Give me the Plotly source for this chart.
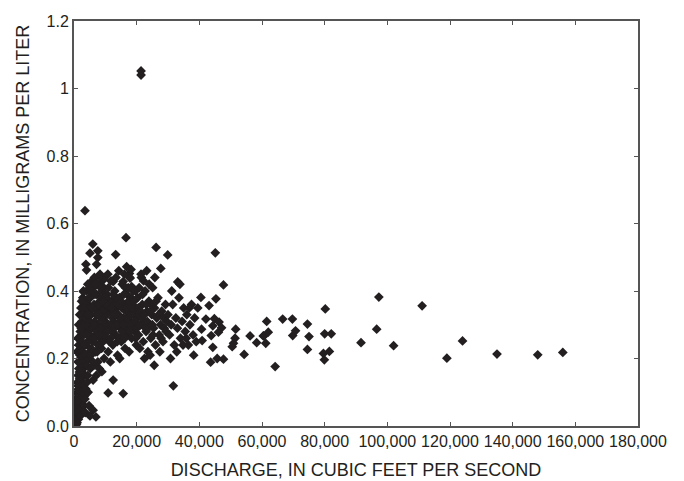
import plotly.graph_objects as go

# Discharge (cubic feet per second) and concentration (mg/L)
pts_tail = [
    (300,0.005),(400,0.01),(500,0.02),(600,0.0),(700,0.03),(800,0.015),(900,0.04),(1000,0.05),
    (1100,0.025),(1200,0.06),(1300,0.08),(1400,0.045),(1500,0.07),(1600,0.1),(1700,0.09),(1800,0.12),
    (1900,0.06),(2000,0.14),(2100,0.11),(2200,0.16),(2300,0.09),(2400,0.18),(2500,0.13),(2600,0.2),
    (2700,0.15),(2800,0.22),(3000,0.17),(700,0.07),(900,0.1),(1100,0.13),(1300,0.15),(1500,0.17),
    (1700,0.19),(1900,0.21),(2100,0.23),(2300,0.25),(2500,0.27),(800,0.005),(1000,0.01),(1200,0.03),
    (1400,0.02),(1600,0.035),(1800,0.05),(2000,0.03),(2200,0.07),(2400,0.055),(2600,0.08),(2800,0.1),
    (3000,0.12),(3200,0.06),(3400,0.09),(3600,0.04),(3800,0.11),(7000,0.027),(5100,0.03),(6100,0.047),
    (4500,0.1),(3500,0.08),(4200,0.13),(4800,0.06),(600,0.045),(1000,0.085),(1400,0.11),(1800,0.14),
    (2200,0.185),(2600,0.16),(3100,0.21),(3400,0.15),(500,0.06),(900,0.075),(1300,0.12),(1700,0.16),
]
pts_left = [
    (1000,0.22),(1200,0.26),(1500,0.3),(1800,0.33),(2000,0.28),(2200,0.35),(2500,0.31),(2800,0.38),
    (3000,0.4),(3200,0.34),(3500,0.29),(3800,0.24),(4000,0.4),(4200,0.32),(4500,0.36),(4800,0.27),
    (5000,0.22),(1500,0.24),(2000,0.2),(2600,0.25),(3300,0.19),(3600,0.21),(4100,0.18),(4400,0.15),
    (4700,0.2),(5200,0.17),(1300,0.19),(2900,0.3),(3400,0.33),(4600,0.29),(5100,0.35),
    (3500,0.638),(6000,0.539),(5100,0.512),(7600,0.519),(7600,0.499),(13300,0.508),(16600,0.558),
    (3800,0.479),(4000,0.462),(7200,0.479),(16800,0.472),(17700,0.452),(15700,0.428),(6200,0.433),
    (8300,0.442),(9400,0.433),(12500,0.428),(17900,0.438),(18400,0.413),(3000,0.398),(5100,0.403),
    (26200,0.529),(29900,0.507),(27700,0.467),(18200,0.464),(33100,0.427),
    (8900,0.161),(12500,0.136),(10900,0.098),(15700,0.096),(6100,0.136),(31700,0.119),
]
pts_body = [
    (5200,0.38),(5500,0.33),(5800,0.29),(6000,0.25),(6200,0.41),(6400,0.36),(6600,0.31),(6800,0.22),
    (7000,0.27),(7200,0.39),(7400,0.34),(7600,0.19),(7800,0.3),(8000,0.42),(8200,0.37),(8400,0.26),
    (8600,0.32),(8800,0.23),(9000,0.4),(9200,0.28),(9400,0.35),(9600,0.2),(9800,0.44),(10000,0.31),
    (5400,0.21),(5700,0.43),(6300,0.18),(6900,0.35),(7500,0.42),(8100,0.17),(8700,0.38),(9300,0.25),
    (9900,0.36),(5100,0.27),(6500,0.44),(7100,0.15),(7700,0.24),(8300,0.45),(8900,0.29),(9500,0.41),
    (10300,0.26),(10600,0.39),(10900,0.22),(11200,0.34),(11500,0.29),(11800,0.43),(12100,0.37),
    (12400,0.24),(12700,0.31),(13000,0.4),(13300,0.27),(13600,0.35),(13900,0.21),(14200,0.33),
    (14500,0.38),(14800,0.29),(15100,0.25),(15400,0.42),(15700,0.32),(16000,0.36),(16300,0.23),
    (16600,0.3),(16900,0.39),(17200,0.27),(17500,0.34),(17800,0.44),(18100,0.31),(18400,0.26),
    (18700,0.37),(19000,0.29),(19300,0.33),(19600,0.4),(19900,0.24),(10500,0.33),(11000,0.41),
    (11600,0.19),(12200,0.28),(12800,0.36),(13400,0.44),(14000,0.3),(14600,0.2),(15200,0.35),
    (15800,0.27),(16400,0.41),(17000,0.32),(17600,0.22),(18200,0.38),(18800,0.34),(19400,0.28),
    (10200,0.3),(11400,0.37),(12600,0.34),(13800,0.25),(15000,0.31),(16200,0.29),(17400,0.37),
    (18600,0.3),(19800,0.35),(10800,0.45),(14300,0.46),(16100,0.45),(20000,0.32),
    (20300,0.38),(20600,0.27),(20900,0.33),(21200,0.3),(21500,0.44),(21800,0.36),(22100,0.25),
    (22400,0.31),(22700,0.4),(23000,0.28),(23300,0.34),(23600,0.22),(23900,0.37),(24200,0.3),
    (24500,0.26),(24800,0.33),(25100,0.41),(25400,0.29),(25700,0.35),(26000,0.24),(26400,0.32),
    (26800,0.38),(27200,0.27),(27600,0.3),(28000,0.34),(28400,0.25),(28800,0.29),(29200,0.36),
    (29600,0.31),(20500,0.35),(21000,0.23),(21600,0.32),(22200,0.43),(22800,0.29),(23400,0.31),
    (24000,0.42),(24600,0.36),(25200,0.27),(26200,0.37),(27000,0.33),(27800,0.26),(28600,0.32),
    (29400,0.28),(22500,0.2),(24300,0.21),(25600,0.18),(27400,0.22),(21400,0.45),(23200,0.46),
    (20800,0.41),(25800,0.44),
    (30000,0.33),(30500,0.27),(31000,0.3),(31500,0.36),(32000,0.24),(32500,0.32),(33000,0.29),
    (33500,0.38),(34000,0.26),(34500,0.31),(35000,0.35),(35500,0.28),(36000,0.33),(36500,0.24),
    (37000,0.3),(37500,0.36),(38000,0.27),(38500,0.32),(39000,0.25),(39500,0.35),(31200,0.4),
    (33800,0.42),(36800,0.35),(32800,0.22),(35800,0.26),(38200,0.21),(30800,0.2),(34800,0.24),
]
pts_dense = [
    (2300,0.29),(2700,0.33),(3100,0.27),(3700,0.37),(4300,0.25),(4900,0.31),(5300,0.4),(5600,0.26),
    (5900,0.35),(6300,0.3),(6700,0.39),(7100,0.33),(7300,0.28),(7900,0.36),(8500,0.41),(9100,0.34),
    (9700,0.27),(10400,0.36),(11100,0.3),(11700,0.26),(12300,0.32),(12900,0.29),(13500,0.38),
    (14100,0.36),(14700,0.32),(15300,0.28),(15900,0.39),(16500,0.34),(17100,0.36),(17700,0.3),
    (18300,0.33),(18900,0.4),(19500,0.31),(20100,0.29),(20700,0.3),(21300,0.34),(21900,0.39),
    (22500,0.33),(23100,0.36),(23700,0.29),(24400,0.34),(25000,0.3),(3900,0.3),(4400,0.42),
    (6100,0.19),(6700,0.26),(7400,0.22),(8100,0.27),(8800,0.32),(9500,0.3),(10100,0.38),
    (10700,0.28),(11300,0.25),(11900,0.35),(12500,0.39),(13100,0.33),(13700,0.3),(14400,0.26),
    (15000,0.37),(15600,0.3),(16200,0.26),(16800,0.35),(17300,0.41),(17900,0.28),(18500,0.35),
    (19100,0.37),(19700,0.26),(2400,0.37),(2900,0.35),(3300,0.24),(3700,0.32),(4100,0.27),
    (4500,0.33),(4900,0.38),(5500,0.23),(6800,0.42),(7700,0.33),(8600,0.29),(9200,0.37),
]
pts_right = [
    (45100,0.513),(47700,0.418),(45300,0.377),(40500,0.381),(43100,0.357),(42100,0.317),(44800,0.318),
    (46300,0.308),(44300,0.297),(47100,0.291),(46100,0.278),(40700,0.287),(43800,0.268),(51600,0.287),
    (51400,0.26),(50900,0.245),(50500,0.235),(40900,0.253),(44300,0.233),(56200,0.267),(58300,0.247),
    (60400,0.267),(54300,0.212),(45700,0.2),(47700,0.198),(43600,0.189),
    (61500,0.31),(60600,0.267),(62000,0.278),(61200,0.245),(64200,0.176),(66600,0.317),(69700,0.317),
    (69800,0.268),(70700,0.282),(74500,0.302),(75000,0.265),(74500,0.227),(80200,0.347),(80000,0.273),
    (82100,0.273),(79600,0.215),(81500,0.221),(79900,0.196),(91600,0.247),(96600,0.287),(97300,0.382),
    (102000,0.238),(111100,0.356),(119000,0.201),(124000,0.252),(135000,0.213),(148000,0.211),
    (156000,0.218),(21400,1.052),(21400,1.040),
]

all_pts = pts_tail + pts_left + pts_body + pts_dense + pts_right
discharge = [p[0] for p in all_pts]
concentration = [p[1] for p in all_pts]

x_ticks = [0, 20000, 40000, 60000, 80000, 100000, 120000, 140000, 160000, 180000]
x_labels = ["0", "20,000", "40,000", "60,000", "80,000", "100,000", "120,000", "140,000", "160,000", "180,000"]
y_ticks = [0, 0.2, 0.4, 0.6, 0.8, 1.0, 1.2]
y_labels = ["0.0", "0.2", "0.4", "0.6", "0.8", "1", "1.2"]

FONT = "Liberation Sans, Arial, sans-serif"
INK = "#231f20"
AXC = "#555555"

fig = go.Figure()
fig.add_trace(go.Scatter(
    x=discharge, y=concentration, mode="markers",
    marker=dict(symbol="diamond", size=7.5, color=INK, line=dict(width=0)),
    showlegend=False, hoverinfo="skip",
))

fig.update_layout(
    width=684, height=481,
    margin=dict(l=74, r=46, t=21, b=55),
    paper_bgcolor="white", plot_bgcolor="white",
    font=dict(family=FONT, color=INK, size=16),
)
fig.update_xaxes(
    range=[0, 180000], tickvals=x_ticks, ticktext=x_labels, automargin=False,
    ticks="inside", ticklen=4, tickcolor=AXC, tickwidth=1,
    showline=True, linecolor=AXC, linewidth=2, mirror="ticks",
    showgrid=False, zeroline=False,
    tickfont=dict(size=16, family=FONT, color=INK),
    title=dict(text="DISCHARGE, IN CUBIC FEET PER SECOND", font=dict(size=18, family=FONT, color=INK), standoff=14),
)
fig.update_yaxes(
    range=[0, 1.2], tickvals=y_ticks, ticktext=y_labels, automargin=False,
    ticks="inside", ticklen=4, tickcolor=AXC, tickwidth=1,
    showline=True, linecolor=AXC, linewidth=2, mirror="ticks",
    showgrid=False, zeroline=False,
    tickfont=dict(size=16, family=FONT, color=INK),
    title=dict(text="CONCENTRATION, IN MILLIGRAMS PER LITER", font=dict(size=18, family=FONT, color=INK), standoff=12),
)

fig.write_html("out.html")
